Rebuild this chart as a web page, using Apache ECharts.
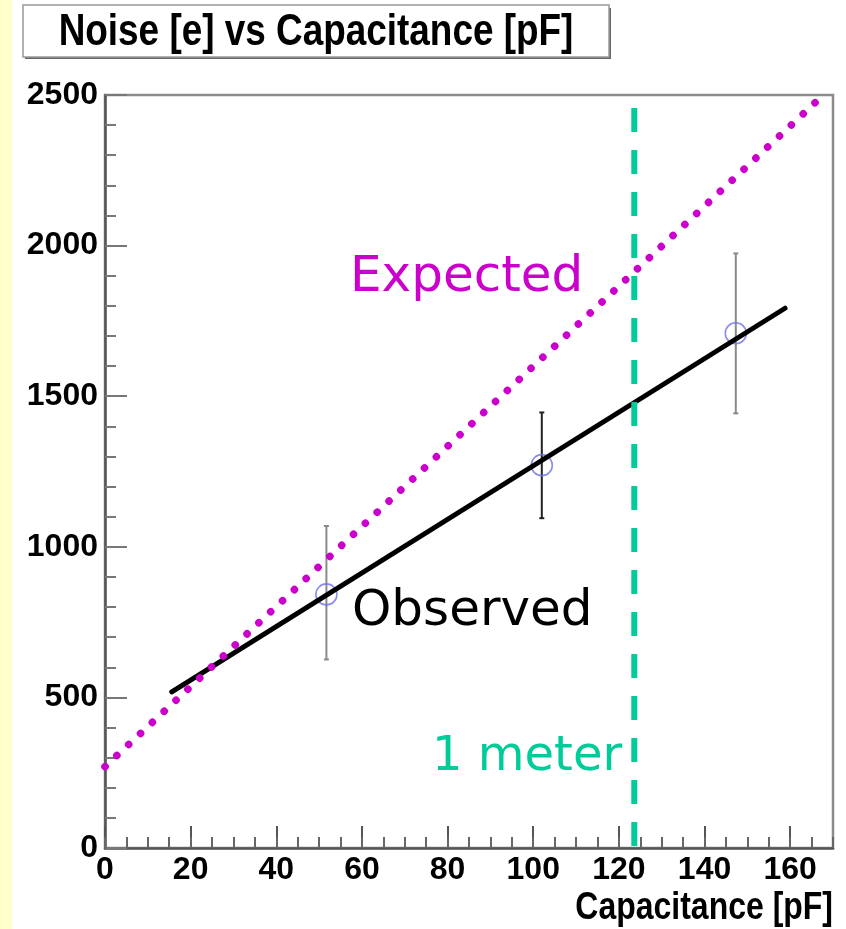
<!DOCTYPE html>
<html>
<head>
<meta charset="utf-8">
<script src="https://cdn.jsdelivr.net/npm/echarts@6/dist/echarts.min.js"></script>
<style>
html,body{margin:0;padding:0;background:#fff;}
#chart{width:846px;height:929px;}
</style>
</head>
<body>
<div id="chart"></div>
<script>
// ---- data ----
const pointCap   = [51.7, 102.0, 147.3];
const pointNoise = [842, 1271, 1709];
const errLow     = [626, 1095, 1443];
const errHigh    = [1069, 1446, 1974];

const fitCap   = [15.6, 158.8];
const fitNoise = [518, 1792];

const expCap   = [0, 167];
const expNoise = [270, 2490];

const meterCap   = [123.6, 123.6];
const meterNoise = [2457, 7];

const xMin = 0, xMax = 170, xMajor = 20, xMinor = 5;
const yMin = 0, yMax = 2500, yMajor = 500, yMinor = 100;

const titleText = 'Noise [e] vs Capacitance [pF]';
const xTitle = 'Capacitance [pF]';
const labelExpected = 'Expected';
const labelObserved = 'Observed';
const labelMeter = '1 meter';
// --------------------------------------

const SANS = '"Liberation Sans", Arial, sans-serif';
const ANNOT = '"DejaVu Sans", "Noto Sans", sans-serif';

const errColors = ['#8a8a8a', '#222222', '#8a8a8a'];

const chart = echarts.init(document.getElementById('chart'), null, {renderer: 'canvas'});

const pts = pointCap.map((c, i) => [c, pointNoise[i]]);
const errs = pointCap.map((c, i) => [c, errLow[i], errHigh[i], i]);

const plain = v => String(v);

const option = {
  animation: false,
  backgroundColor: '#ffffff',
  grid: {
    left: 105, right: 13, top: 95, bottom: 81,
    show: true, borderColor: '#8c8c8c', borderWidth: 2.5, backgroundColor: 'transparent'
  },
  xAxis: [{
    type: 'value', min: xMin, max: xMax, interval: xMajor,
    axisLine: {show: true, lineStyle: {color: '#555', width: 2.5}},
    axisTick: {show: true, inside: true, length: 22, lineStyle: {color: '#555', width: 2}},
    axisLabel: {
      show: true, margin: 6, showMaxLabel: false, formatter: plain,
      fontFamily: SANS, fontWeight: 'bold', fontSize: 32, color: '#000'
    },
    splitLine: {show: false}
  }, {
    type: 'value', min: xMin, max: xMax, interval: xMinor, position: 'bottom', offset: 0,
    axisLine: {show: false},
    axisTick: {show: true, inside: true, length: 11, lineStyle: {color: '#666', width: 2}},
    axisLabel: {show: false},
    splitLine: {show: false}
  }],
  yAxis: [{
    type: 'value', min: yMin, max: yMax, interval: yMajor,
    axisLine: {show: true, lineStyle: {color: '#555', width: 2.5}},
    axisTick: {show: true, inside: true, length: 22, lineStyle: {color: '#777', width: 2}},
    axisLabel: {
      show: true, margin: 7, formatter: plain,
      fontFamily: SANS, fontWeight: 'bold', fontSize: 32, color: '#000'
    },
    splitLine: {show: false}
  }, {
    type: 'value', min: yMin, max: yMax, interval: yMinor, position: 'left', offset: 0,
    axisLine: {show: false},
    axisTick: {show: true, inside: true, length: 11, lineStyle: {color: '#777', width: 2}},
    axisLabel: {show: false},
    splitLine: {show: false}
  }],
  series: [
    {
      type: 'custom', xAxisIndex: 0, yAxisIndex: 0, z: 2,
      data: errs,
      renderItem: function (params, api) {
        const x = api.value(0), lo = api.value(1), hi = api.value(2);
        const c = errColors[api.value(3)];
        const t = api.coord([x, hi]);
        const b = api.coord([x, lo]);
        const st = {stroke: c, lineWidth: 2};
        return {
          type: 'group',
          children: [
            {type: 'line', shape: {x1: t[0], y1: t[1], x2: b[0], y2: b[1]}, style: st},
            {type: 'line', shape: {x1: t[0] - 2.5, y1: t[1], x2: t[0] + 2.5, y2: t[1]}, style: st},
            {type: 'line', shape: {x1: b[0] - 2.5, y1: b[1], x2: b[0] + 2.5, y2: b[1]}, style: st}
          ]
        };
      }
    },
    {
      type: 'scatter', xAxisIndex: 0, yAxisIndex: 0, z: 3,
      data: pts, symbol: 'circle', symbolSize: 21,
      itemStyle: {color: 'rgba(0,0,0,0)', borderColor: '#6f6fe8', borderWidth: 1.6}
    },
    {
      type: 'line', xAxisIndex: 0, yAxisIndex: 0, z: 4,
      data: fitCap.map((c, i) => [c, fitNoise[i]]),
      showSymbol: false, symbol: 'none',
      lineStyle: {color: '#000', width: 5, cap: 'round'}
    },
    {
      type: 'line', xAxisIndex: 0, yAxisIndex: 0, z: 5,
      data: expCap.map((c, i) => [c, expNoise[i]]),
      showSymbol: false, symbol: 'none',
      lineStyle: {color: '#cc00cc', width: 7.5, type: [0.1, 16.1], cap: 'round'}
    },
    {
      type: 'line', xAxisIndex: 0, yAxisIndex: 0, z: 5,
      data: meterCap.map((c, i) => [c, meterNoise[i]]),
      showSymbol: false, symbol: 'none',
      lineStyle: {color: '#00cc99', width: 6, type: [24, 18]}
    }
  ],
  graphic: [
    {type: 'rect', left: 0, top: 0, shape: {width: 12, height: 929}, style: {fill: '#ffffcc'}, z: 0},
    {type: 'rect', x: 25, y: 8, shape: {width: 586, height: 51}, style: {fill: '#666'}, z: 10},
    {type: 'rect', x: 23, y: 5, shape: {width: 586, height: 52}, style: {fill: '#fff', stroke: '#999', lineWidth: 1.5}, z: 11},
    {type: 'text', x: 316, y: 33, scaleX: 0.82, z: 12,
      style: {text: titleText, fontFamily: SANS, fontWeight: 'bold', fontSize: 45, fill: '#000',
        align: 'center', verticalAlign: 'middle'}},
    {type: 'text', x: 833, y: 908, scaleX: 0.82, z: 12,
      style: {text: xTitle, fontFamily: SANS, fontWeight: 'bold', fontSize: 39, fill: '#000',
        align: 'right', verticalAlign: 'middle'}},
    {type: 'text', x: 350, y: 278, z: 12,
      style: {text: labelExpected, fontFamily: ANNOT, fontSize: 50, fill: '#cc00cc', align: 'left', verticalAlign: 'middle'}},
    {type: 'text', x: 352, y: 612, z: 12,
      style: {text: labelObserved, fontFamily: ANNOT, fontSize: 50, fill: '#000', align: 'left', verticalAlign: 'middle'}},
    {type: 'text', x: 432, y: 758, z: 12,
      style: {text: labelMeter, fontFamily: ANNOT, fontSize: 48, fill: '#00cc99', align: 'left', verticalAlign: 'middle'}}
  ]
};
chart.setOption(option);
</script>
</body>
</html>
